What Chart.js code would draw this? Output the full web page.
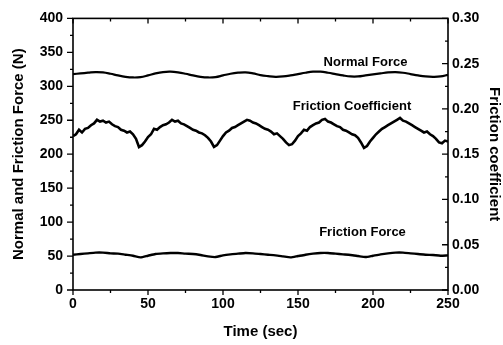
<!DOCTYPE html>
<html>
<head>
<meta charset="utf-8">
<script src="https://cdn.jsdelivr.net/npm/chart.js@4.4.1/dist/chart.umd.min.js"></script>
<style>
  html, body { margin: 0; padding: 0; background: #fff; }
  #wrap { width: 503px; height: 345px; }
</style>
</head>
<body>
<div id="wrap"><canvas id="frictionChart" width="503" height="345"></canvas></div>
<script>
// force readings, sampled every 5 s
const forceTime = [0, 5, 10, 15, 20, 25, 30, 35, 40, 45, 50, 55, 60, 65, 70, 75, 80, 85, 90, 95,
    100, 105, 110, 115, 120, 125, 130, 135, 140, 145, 150, 155, 160, 165, 170, 175, 180, 185, 190, 195,
    200, 205, 210, 215, 220, 225, 230, 235, 240, 245, 250];
const normalForce = [318, 319, 320, 321, 320.5, 318.5, 316, 314, 313, 313.5, 316, 319, 321, 321.5, 320.5, 318.5, 316, 314, 313, 313.5,
    316, 318.5, 320, 320.5, 319, 316.5, 315, 314, 314.5, 316, 318, 320, 321.5, 321.5, 320, 318, 316, 314.5, 314.5, 316,
    317.5, 319, 320.5, 321, 320, 318, 316, 314.5, 314, 314.5, 317];
const frictionForce = [52, 53, 54, 55, 55, 54, 53.5, 52, 50.5, 48, 50.5, 53, 54, 54.5, 54.5, 53.5, 53, 51.5, 49.5, 48.5,
    51, 52.5, 53.5, 54.5, 54, 53, 52, 51, 49.5, 48, 50, 52, 53.5, 54.5, 54.5, 53.5, 52.5, 51.5, 50, 48.5,
    50.5, 52.5, 54, 55, 55, 54, 53, 52, 51.5, 50.5, 51];

// friction coefficient, sampled every 2 s
const coefTime = [0, 2, 4, 6, 8, 10, 12, 14, 16, 18, 20, 22, 24, 26, 28, 30, 32, 34, 36, 38, 40, 42, 44,
    46, 48, 50, 52, 54, 56, 58, 60, 62, 64, 66, 68, 70, 72, 74, 76, 78, 80, 82, 84, 86, 88, 90, 92, 94,
    96, 98, 100, 102, 104, 106, 108, 110, 112, 114, 116, 118, 120, 122, 124, 126, 128, 130, 132, 134, 136, 138, 140, 142, 144,
    146, 148, 150, 152, 154, 156, 158, 160, 162, 164, 166, 168, 170, 172, 174, 176, 178, 180, 182, 184, 186, 188, 190, 192, 194,
    196, 198, 200, 202, 204, 206, 208, 210, 212, 214, 216, 218, 220, 222, 224, 226, 228, 230, 232, 234, 236, 238, 240, 242, 244, 246, 248, 250];
const frictionCoef = [
    0.170, 0.172, 0.177, 0.174, 0.178, 0.179, 0.182, 0.184, 0.188, 0.186, 0.187, 0.185, 0.186, 0.183, 0.181, 0.180, 0.177, 0.176, 0.174, 0.175, 0.172, 0.167, 0.158,
    0.160, 0.164, 0.169, 0.172, 0.178, 0.177, 0.180, 0.182, 0.183, 0.185, 0.188, 0.186, 0.187, 0.184, 0.183, 0.181, 0.179, 0.177, 0.176, 0.174, 0.173, 0.171, 0.168, 0.164, 0.158,
    0.160, 0.165, 0.170, 0.174, 0.176, 0.179, 0.180, 0.182, 0.184, 0.186, 0.188, 0.187, 0.185, 0.184, 0.182, 0.180, 0.178, 0.177, 0.175, 0.172, 0.173, 0.170, 0.167, 0.163, 0.160,
    0.161, 0.165, 0.170, 0.173, 0.177, 0.176, 0.180, 0.182, 0.184, 0.185, 0.188, 0.189, 0.186, 0.185, 0.183, 0.181, 0.180, 0.177, 0.176, 0.174, 0.172, 0.171, 0.168, 0.163, 0.157,
    0.159, 0.164, 0.168, 0.172, 0.175, 0.178, 0.180, 0.182, 0.184, 0.186, 0.188, 0.190, 0.187, 0.186, 0.184, 0.182, 0.180, 0.178, 0.176, 0.174, 0.175, 0.172, 0.170, 0.167, 0.163, 0.162, 0.165, 0.164
];

// axis ticks
const xTicks = [0, 50, 100, 150, 200, 250];
const xMinorTicks = [25, 75, 125, 175, 225];
const yTicks = [0, 50, 100, 150, 200, 250, 300, 350, 400];
const yMinorTicks = [25, 75, 125, 175, 225, 275, 325, 375];
const y2Ticks = [0, 0.05, 0.10, 0.15, 0.20, 0.25, 0.30];
const y2MinorTicks = [0.025, 0.075, 0.125, 0.175, 0.225, 0.275];

const FONT = "'Liberation Sans', Arial, Helvetica, sans-serif";

// in-plot curve labels (data coordinates on x / y)
const curveLabels = [
    { text: "Normal Force", x: 195, y: 335 },
    { text: "Friction Coefficient", x: 186, y: 271 },
    { text: "Friction Force", x: 193, y: 85 }
];

function toPoints(xs, ys) {
    return xs.map((x, i) => ({ x: x, y: ys[i] }));
}

// box around the plot plus the tick marks (left/bottom outward, top/right inward)
const framePlugin = {
    id: "frame",
    afterDatasetsDraw(chart) {
        const { ctx, chartArea: a, scales } = chart;
        const x = scales.x, y = scales.y, y2 = scales.y2;
        ctx.save();
        ctx.strokeStyle = "#000";
        ctx.lineWidth = 1.6;
        ctx.strokeRect(a.left, a.top, a.right - a.left, a.bottom - a.top);

        ctx.lineWidth = 1.3;
        ctx.beginPath();
        xTicks.forEach(v => {
            const px = x.getPixelForValue(v);
            ctx.moveTo(px, a.bottom); ctx.lineTo(px, a.bottom + 5);
            ctx.moveTo(px, a.top); ctx.lineTo(px, a.top + 5);
        });
        xMinorTicks.forEach(v => {
            const px = x.getPixelForValue(v);
            ctx.moveTo(px, a.bottom); ctx.lineTo(px, a.bottom + 3);
            ctx.moveTo(px, a.top); ctx.lineTo(px, a.top + 3);
        });
        yTicks.forEach(v => {
            const py = y.getPixelForValue(v);
            ctx.moveTo(a.left - 6, py); ctx.lineTo(a.left, py);
        });
        yMinorTicks.forEach(v => {
            const py = y.getPixelForValue(v);
            ctx.moveTo(a.left - 3, py); ctx.lineTo(a.left, py);
        });
        y2Ticks.forEach(v => {
            const py = y2.getPixelForValue(v);
            ctx.moveTo(a.right - 6, py); ctx.lineTo(a.right, py);
        });
        y2MinorTicks.forEach(v => {
            const py = y2.getPixelForValue(v);
            ctx.moveTo(a.right - 3, py); ctx.lineTo(a.right, py);
        });
        ctx.stroke();

        ctx.fillStyle = "#000";
        ctx.font = "bold 13px " + FONT;
        ctx.textAlign = "center";
        ctx.textBaseline = "middle";
        curveLabels.forEach(l => {
            ctx.fillText(l.text, x.getPixelForValue(l.x), y.getPixelForValue(l.y));
        });
        ctx.restore();
    }
};

const ctx = document.getElementById("frictionChart").getContext("2d");
new Chart(ctx, {
    type: "line",
    data: {
        datasets: [{
                label: "Normal Force",
                data: toPoints(forceTime, normalForce),
                borderColor: "#000",
                borderWidth: 2.2,
                tension: 0.4,
                yAxisID: "y"
            },
            {
                label: "Friction Coefficient",
                data: toPoints(coefTime, frictionCoef),
                borderColor: "#000",
                borderWidth: 2.6,
                tension: 0,
                yAxisID: "y2"
            },
            {
                label: "Friction Force",
                data: toPoints(forceTime, frictionForce),
                borderColor: "#000",
                borderWidth: 2.4,
                tension: 0.2,
                yAxisID: "y"
            }
        ]
    },
    options: {
        responsive: false,
        animation: false,
        devicePixelRatio: 1,
        layout: { padding: { top: 13, left: 0, right: 0, bottom: 0 } },
        elements: { point: { radius: 0 } },
        plugins: {
            legend: { display: false },
            tooltip: { enabled: false }
        },
        scales: {
            x: {
                type: "linear",
                min: 0,
                max: 250,
                grid: { display: false, drawTicks: false },
                border: { display: false },
                ticks: {
                    stepSize: 50,
                    padding: 6,
                    color: "#000",
                    font: { family: FONT, size: 14, weight: "bold" },
                    maxRotation: 0
                },
                title: {
                    display: true,
                    text: "Time (sec)",
                    color: "#000",
                    font: { family: FONT, size: 15, weight: "bold" },
                    padding: { top: 0, bottom: 4 }
                },
                afterFit(scale) { scale.height = 55; }
            },
            y: {
                position: "left",
                min: 0,
                max: 400,
                grid: { display: false, drawTicks: false },
                border: { display: false },
                ticks: {
                    stepSize: 50,
                    padding: 10,
                    color: "#000",
                    font: { family: FONT, size: 14, weight: "bold" }
                },
                title: {
                    display: true,
                    text: "Normal and Friction Force (N)",
                    color: "#000",
                    font: { family: FONT, size: 15, weight: "bold" },
                    padding: { top: 10, bottom: 0 }
                },
                afterFit(scale) { scale.width = 73; }
            },
            y2: {
                position: "right",
                min: 0,
                max: 0.3,
                grid: { display: false, drawTicks: false },
                border: { display: false },
                ticks: {
                    stepSize: 0.05,
                    padding: 4,
                    color: "#000",
                    font: { family: FONT, size: 14, weight: "bold" },
                    callback: v => v.toFixed(2)
                },
                title: {
                    display: true,
                    text: "Friction coefficient",
                    color: "#000",
                    font: { family: FONT, size: 15, weight: "bold" },
                    padding: { top: 0, bottom: 0 }
                },
                afterFit(scale) { scale.width = 55; }
            }
        }
    },
    plugins: [framePlugin]
});
</script>
</body>
</html>
